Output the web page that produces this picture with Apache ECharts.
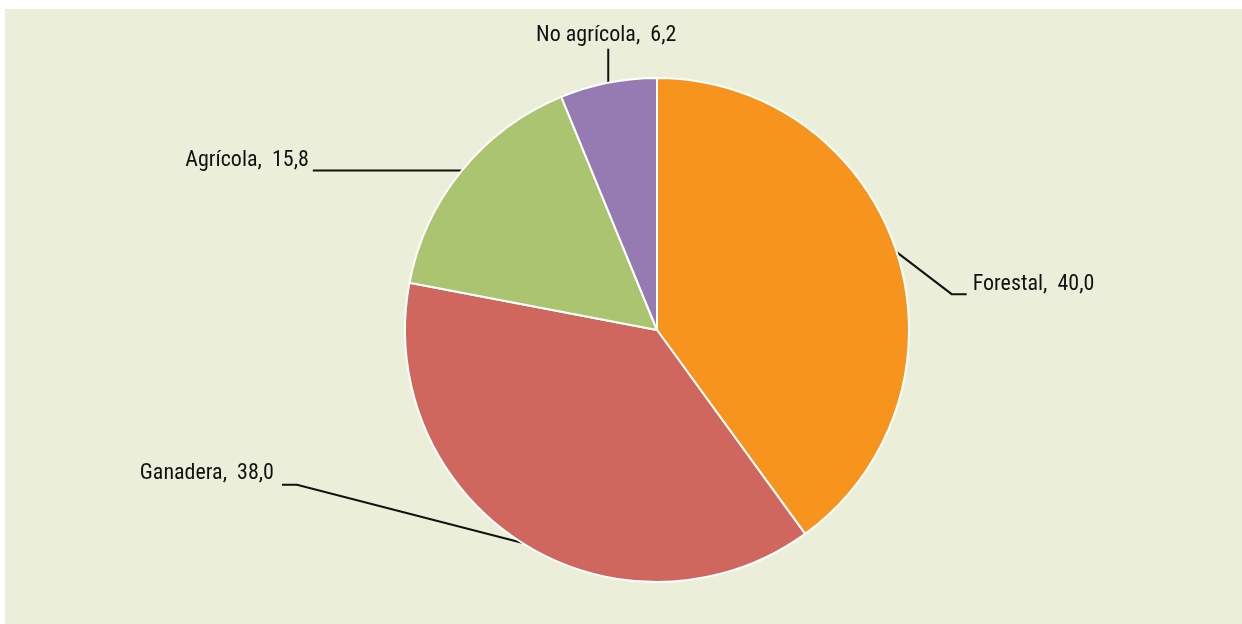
<!DOCTYPE html>
<html>
<head>
<meta charset="utf-8">
<script src="https://cdn.jsdelivr.net/npm/echarts@6/dist/echarts.min.js"></script>
<style>
  html, body { margin: 0; padding: 0; background: #fff; }
  #main { width: 1242px; height: 624px; }
</style>
</head>
<body>
<div id="main"></div>
<script>
// 用地类型 (%)
var categories = ['Forestal', 'Ganadera', 'Agrícola', 'No agrícola'];
var values = [40.0, 38.0, 15.8, 6.2];
var colors = ['#f7941d', '#cf675f', '#abc46f', '#957bb1'];

(function() {
    var myChart = echarts.init(document.getElementById('main'));

    var data = categories.map(function(name, i) {
        return { name: name, value: values[i], itemStyle: { color: colors[i] } };
    });

    // 每个标签的引导线偏移 (相对于扇区外沿中点)
    var lineSetup = [
        { bend: [55, 42], end: [15, 0], align: 'left', dx: 6, dy: -10 },
        { bend: [-225, -58], end: [-15, 0], align: 'right', dx: -8, dy: -11 },
        { bend: [-75, 0], end: [-74, 0], align: 'right', dx: -4, dy: -10 },
        { bend: [0, -17], end: [0, -17], align: 'center', dx: -2, dy: -13 }
    ];

    var option = {
        animation: false,
        graphic: [{
            type: 'rect',
            z: -10,
            shape: { x: 5, y: 9, width: 1237, height: 615 },
            style: { fill: '#ebefd9' }
        }],
        series: [{
            type: 'pie',
            center: [657, 330],
            radius: 252,
            startAngle: 90,
            clockwise: true,
            itemStyle: { borderColor: '#ffffff', borderWidth: 2 },
            label: {
                show: true,
                color: '#111111',
                fontFamily: '"Roboto Condensed", "Liberation Sans", sans-serif',
                fontSize: 22,
                formatter: function(p) {
                    return p.name + ',  ' + p.value.toFixed(1).replace('.', ',');
                }
            },
            labelLine: {
                show: true,
                length: 20,
                length2: 15,
                lineStyle: { color: '#111111', width: 2 }
            },
            labelLayout: function(params) {
                var s = lineSetup[params.dataIndex];
                var e = params.labelLinePoints[0];
                var b = [e[0] + s.bend[0], e[1] + s.bend[1]];
                var t = [b[0] + s.end[0], b[1] + s.end[1]];
                return {
                    x: t[0] + s.dx,
                    y: t[1] + s.dy,
                    align: s.align,
                    verticalAlign: 'middle',
                    labelLinePoints: [e, b, t]
                };
            },
            data: data
        }]
    };

    myChart.setOption(option);
    window.addEventListener('resize', function() {
        myChart.resize();
    });
})();
</script>
</body>
</html>
